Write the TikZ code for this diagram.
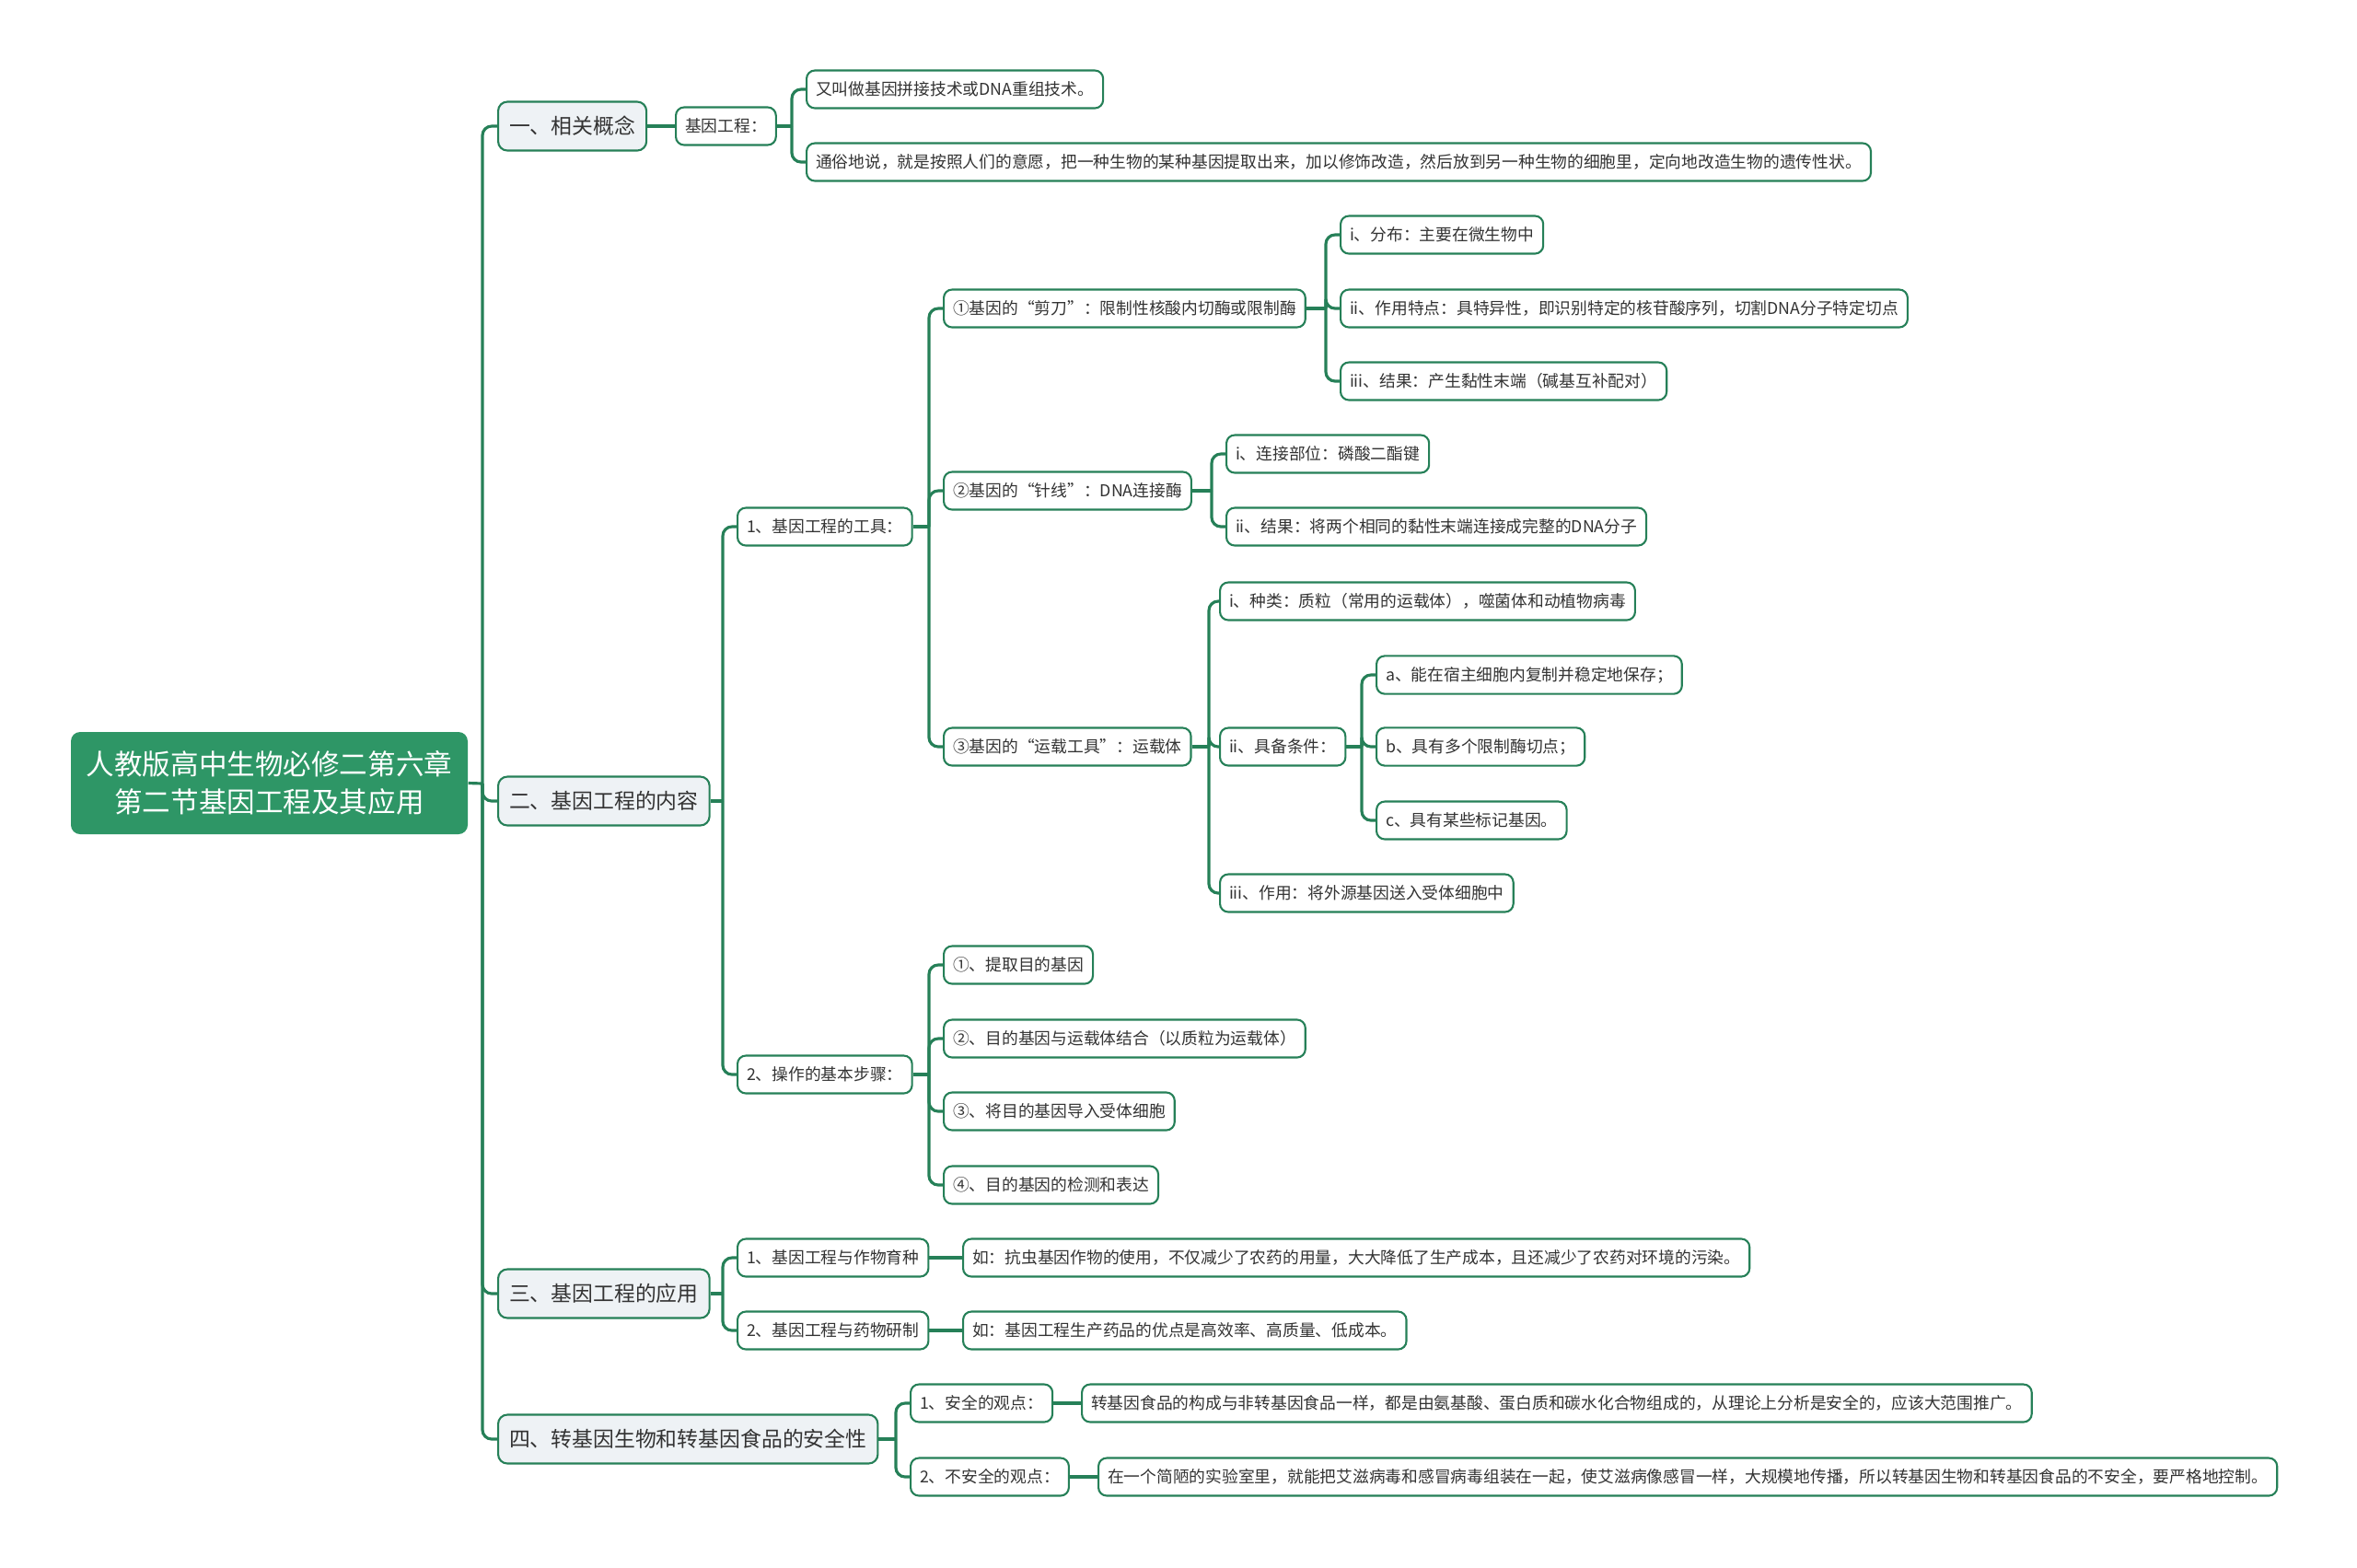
\documentclass[tikz,border=0pt]{standalone}
\usepackage{fontspec}
\setmainfont{Noto Sans CJK SC}
\usepackage{tikz}
\usetikzlibrary{positioning, calc}
\definecolor{MapGreen}{RGB}{46,150,102}
\definecolor{LineGreen}{RGB}{38,128,88}
\definecolor{TopicFill}{RGB}{238,242,245}
\definecolor{TextGray}{RGB}{51,51,51}

\begin{document}
\begin{tikzpicture}[
    rootbox/.style={rectangle, rounded corners=0.1cm, fill=MapGreen, text=white, align=center,
        minimum width=4.31cm, minimum height=1.11cm, font=\fontsize{8.7pt}{11.6pt}\selectfont},
    topicbox/.style={rectangle, rounded corners=0.1cm, draw=LineGreen, line width=0.6pt, fill=TopicFill,
        text=TextGray, anchor=west, minimum height=0.53cm, inner xsep=0.12cm, font=\fontsize{6.5pt}{8pt}\selectfont},
    itembox/.style={rectangle, rounded corners=0.09cm, draw=LineGreen, line width=0.6pt, fill=white,
        text=TextGray, anchor=west, minimum height=0.41cm, inner xsep=0.1cm, font=\fontsize{5.05pt}{6pt}\selectfont},
    link/.style={draw=LineGreen, line width=0.9pt, rounded corners=0.1cm}
]
\useasboundingbox (0,0) rectangle (25.6,-17.02);

% root
\node[rootbox] (root) at (2.925,-8.505) {人教版高中生物必修二第六章\\第二节基因工程及其应用};

% main topics
\node[topicbox] (t1) at (5.40,-1.37) {一、相关概念};
\node[topicbox] (t2) at (5.40,-8.70) {二、基因工程的内容};
\node[topicbox] (t3) at (5.40,-14.05) {三、基因工程的应用};
\node[topicbox] (t4) at (5.40,-15.63) {四、转基因生物和转基因食品的安全性};

\coordinate (jr) at (5.24,-8.51);
\draw[link] (root.east) -- (jr);
\foreach \t in {t1,t2,t3,t4}
    \draw[link] (jr) |- (\t.west);

% 一、相关概念
\node[itembox] (k1) at (7.33,-1.37) {基因工程：};
\draw[link] (t1) -- (k1);
\node[itembox] (l1) at (8.75,-0.97) {又叫做基因拼接技术或DNA重组技术。};
\node[itembox] (l2) at (8.75,-1.76) {通俗地说，就是按照人们的意愿，把一种生物的某种基因提取出来，加以修饰改造，然后放到另一种生物的细胞里，定向地改造生物的遗传性状。};
\coordinate (jk1) at (8.60,-1.37);
\draw[link] (k1.east) -- (jk1);
\foreach \c in {l1,l2}
    \draw[link] (jk1) |- (\c.west);

% 二、基因工程的内容
\node[itembox] (m1) at (8.00,-5.72) {1、基因工程的工具：};
\node[itembox] (m2) at (8.00,-11.67) {2、操作的基本步骤：};
\coordinate (j2) at (7.85,-8.70);
\draw[link] (t2.east) -- (j2);
\foreach \c in {m1,m2}
    \draw[link] (j2) |- (\c.west);

% tools
\node[itembox] (s1) at (10.24,-3.35) {①基因的“剪刀”：限制性核酸内切酶或限制酶};
\node[itembox] (s2) at (10.24,-5.33) {②基因的“针线”：DNA连接酶};
\node[itembox] (s3) at (10.24,-8.11) {③基因的“运载工具”：运载体};
\coordinate (jm1) at (10.09,-5.72);
\draw[link] (m1.east) -- (jm1);
\foreach \c in {s1,s2,s3}
    \draw[link] (jm1) |- (\c.west);

% scissors
\node[itembox] (a1) at (14.55,-2.55) {i、分布：主要在微生物中};
\node[itembox] (a2) at (14.55,-3.35) {ii、作用特点：具特异性，即识别特定的核苷酸序列，切割DNA分子特定切点};
\node[itembox] (a3) at (14.55,-4.14) {iii、结果：产生黏性末端（碱基互补配对）};
\coordinate (js1) at (14.40,-3.35);
\draw[link] (s1.east) -- (js1);
\foreach \c in {a1,a2,a3}
    \draw[link] (js1) |- (\c.west);

% needle and thread
\node[itembox] (b1) at (13.31,-4.93) {i、连接部位：磷酸二酯键};
\node[itembox] (b2) at (13.31,-5.72) {ii、结果：将两个相同的黏性末端连接成完整的DNA分子};
\coordinate (js2) at (13.16,-5.33);
\draw[link] (s2.east) -- (js2);
\foreach \c in {b1,b2}
    \draw[link] (js2) |- (\c.west);

% vector
\node[itembox] (c1) at (13.24,-6.53) {i、种类：质粒（常用的运载体），噬菌体和动植物病毒};
\node[itembox] (c2) at (13.24,-8.11) {ii、具备条件：};
\node[itembox] (c3) at (13.24,-9.70) {iii、作用：将外源基因送入受体细胞中};
\coordinate (js3) at (13.13,-8.11);
\draw[link] (s3.east) -- (js3);
\foreach \c in {c1,c2,c3}
    \draw[link] (js3) |- (\c.west);

\node[itembox] (d1) at (14.94,-7.33) {a、能在宿主细胞内复制并稳定地保存；};
\node[itembox] (d2) at (14.94,-8.11) {b、具有多个限制酶切点；};
\node[itembox] (d3) at (14.94,-8.91) {c、具有某些标记基因。};
\coordinate (jc2) at (14.79,-8.11);
\draw[link] (c2.east) -- (jc2);
\foreach \c in {d1,d2,d3}
    \draw[link] (jc2) |- (\c.west);

% steps
\node[itembox] (p1) at (10.24,-10.48) {①、提取目的基因};
\node[itembox] (p2) at (10.24,-11.28) {②、目的基因与运载体结合（以质粒为运载体）};
\node[itembox] (p3) at (10.24,-12.07) {③、将目的基因导入受体细胞};
\node[itembox] (p4) at (10.24,-12.87) {④、目的基因的检测和表达};
\coordinate (jm2) at (10.09,-11.67);
\draw[link] (m2.east) -- (jm2);
\foreach \c in {p1,p2,p3,p4}
    \draw[link] (jm2) |- (\c.west);

% 三、基因工程的应用
\node[itembox] (e1) at (8.00,-13.66) {1、基因工程与作物育种};
\node[itembox] (e2) at (8.00,-14.45) {2、基因工程与药物研制};
\coordinate (j3) at (7.85,-14.05);
\draw[link] (t3.east) -- (j3);
\foreach \c in {e1,e2}
    \draw[link] (j3) |- (\c.west);
\node[itembox] (f1) at (10.45,-13.66) {如：抗虫基因作物的使用，不仅减少了农药的用量，大大降低了生产成本，且还减少了农药对环境的污染。};
\node[itembox] (f2) at (10.45,-14.45) {如：基因工程生产药品的优点是高效率、高质量、低成本。};
\draw[link] (e1) -- (f1);
\draw[link] (e2) -- (f2);

% 四、安全性
\node[itembox] (g1) at (9.88,-15.24) {1、安全的观点：};
\node[itembox] (g2) at (9.88,-16.04) {2、不安全的观点：};
\coordinate (j4) at (9.73,-15.63);
\draw[link] (t4.east) -- (j4);
\foreach \c in {g1,g2}
    \draw[link] (j4) |- (\c.west);
\node[itembox] (h1) at (11.74,-15.24) {转基因食品的构成与非转基因食品一样，都是由氨基酸、蛋白质和碳水化合物组成的，从理论上分析是安全的，应该大范围推广。};
\node[itembox] (h2) at (11.92,-16.04) {在一个简陋的实验室里，就能把艾滋病毒和感冒病毒组装在一起，使艾滋病像感冒一样，大规模地传播，所以转基因生物和转基因食品的不安全，要严格地控制。};
\draw[link] (g1) -- (h1);
\draw[link] (g2) -- (h2);
\end{tikzpicture}
\end{document}
